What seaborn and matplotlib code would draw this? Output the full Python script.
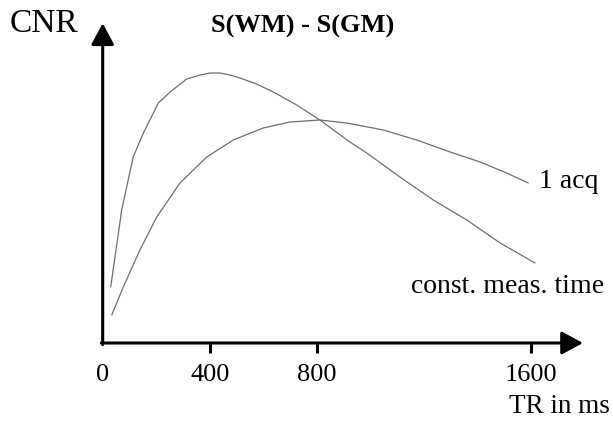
import matplotlib
matplotlib.use("Agg")
import matplotlib.pyplot as plt
import numpy as np
import pandas as pd
import seaborn as sns

# ---- data ----
tr_const = [30, 71, 114, 152, 208, 252, 314, 364, 401, 438, 476, 513, 575,
            638, 725, 812, 924, 987, 1111, 1236, 1361, 1486, 1616]
cnr_const = [0.56, 1.33, 1.86, 2.10, 2.40, 2.51, 2.64, 2.68, 2.70, 2.70, 2.68,
             2.65, 2.59, 2.51, 2.38, 2.23, 2.01, 1.90, 1.66, 1.43, 1.23, 1.00,
             0.80]
tr_1acq = [34, 77, 139, 202, 289, 389, 488, 600, 700, 812, 912, 1049, 1174,
           1299, 1411, 1510, 1591]
cnr_1acq = [0.28, 0.56, 0.93, 1.26, 1.60, 1.86, 2.03, 2.15, 2.21, 2.23, 2.20,
            2.13, 2.03, 1.91, 1.81, 1.70, 1.60]
tick_values = [0, 400, 800, 1600]
tick_labels = ["0", "400", "800", "1600"]
curve_names = ["const. meas. time", "1 acq"]

df = pd.concat([
    pd.DataFrame({"TR": tr_const, "CNR": cnr_const, "curve": curve_names[0]}),
    pd.DataFrame({"TR": tr_1acq, "CNR": cnr_1acq, "curve": curve_names[1]}),
], ignore_index=True)

sns.set_theme(style="white")
plt.rcParams["font.family"] = ["Liberation Serif", "DejaVu Serif"]
plt.rcParams["text.color"] = "black"

W, H = 613, 422
fig = plt.figure(figsize=(W / 100, H / 100), dpi=100)
ax = fig.add_axes([102.7 / W, 1 - 343 / H, (583 - 102.7) / W, (343 - 23.3) / H])

sns.lineplot(data=df, x="TR", y="CNR", hue="curve", units="curve",
             estimator=None, sort=False,
             palette={curve_names[0]: "#6e6e6e", curve_names[1]: "#6e6e6e"},
             linewidth=0.9, legend=False, ax=ax)

ax.set_xlim(0, (583 - 102.7) / 0.2675)
ax.set_ylim(0, 3.197)

for s in ax.spines.values():
    s.set_visible(False)

# axes with arrow heads
arrow = dict(arrowstyle="-|>,head_length=1.3,head_width=0.7", lw=2.2,
             color="black", shrinkA=0, shrinkB=0, mutation_scale=10)
ax.annotate("", xy=(1, 0), xytext=(-0.003, 0), xycoords="axes fraction",
            textcoords="axes fraction", arrowprops=arrow, annotation_clip=False)
ax.annotate("", xy=(0, 1), xytext=(0, -0.005), xycoords="axes fraction",
            textcoords="axes fraction", arrowprops=arrow, annotation_clip=False)

ax.set_xticks(tick_values)
ax.set_xticklabels(tick_labels, fontsize=19)
ax.set_yticks([])
ax.tick_params(axis="x", direction="out", length=7, width=2.2, color="black",
               pad=8, bottom=True, labelcolor="black")
ax.xaxis.get_major_ticks()[0].tick1line.set_visible(False)
ax.set_xlabel("")
ax.set_ylabel("")
ax.grid(False)


def fx(px):
    return px / W


def fy(py):
    return 1 - py / H


fig.text(fx(10), fy(31.7), "CNR", fontsize=24, ha="left", va="baseline")
fig.text(fx(303), fy(32.3), "S(WM) - S(GM)", fontsize=19, fontweight="bold",
         ha="center", va="baseline")
fig.text(fx(539.3), fy(188.3), curve_names[1], fontsize=20, ha="left", va="baseline")
fig.text(fx(411), fy(293), curve_names[0], fontsize=20, ha="left", va="baseline")
fig.text(fx(509), fy(413), "TR in ms", fontsize=19.5, ha="left", va="baseline")

fig.savefig("out.png", dpi=100)
